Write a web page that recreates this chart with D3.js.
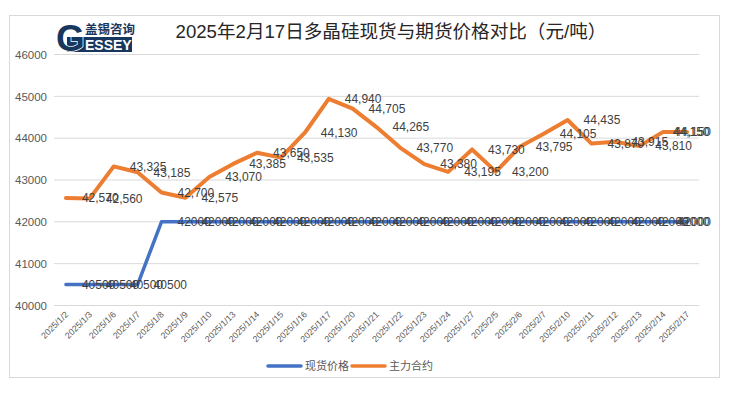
<!DOCTYPE html>
<html><head><meta charset="utf-8">
<script src="https://cdn.jsdelivr.net/npm/d3@7"></script>
<style>
body{margin:0;background:#fff;}
svg text{font-family:"Liberation Sans","Noto Sans CJK SC",sans-serif;}
</style></head>
<body><svg id="c" width="732" height="393"></svg>
<script>
const categories = ["2025/1/2","2025/1/3","2025/1/6","2025/1/7","2025/1/8","2025/1/9","2025/1/10","2025/1/13","2025/1/14","2025/1/15","2025/1/16","2025/1/17","2025/1/20","2025/1/21","2025/1/22","2025/1/23","2025/1/24","2025/1/27","2025/2/5","2025/2/6","2025/2/7","2025/2/10","2025/2/11","2025/2/12","2025/2/13","2025/2/14","2025/2/17"];
const spotPrice = [40500,40500,40500,40500,42000,42000,42000,42000,42000,42000,42000,42000,42000,42000,42000,42000,42000,42000,42000,42000,42000,42000,42000,42000,42000,42000,42000];
const futuresPrice = [42570,42560,43325,43185,42700,42575,43070,43385,43650,43535,44130,44940,44705,44265,43770,43380,43195,43730,43200,43795,44105,44435,43870,43915,43810,44150,44150];
const yTicks = [40000,41000,42000,43000,44000,45000,46000];
const seriesNames = ["现货价格","主力合约"];
const colors = ["#4472C4","#ED7D31"];
const title = "2025年2月17日多晶硅现货与期货价格对比（元/吨）";

const svg = d3.select("#c");
// outer frame
svg.append("rect").attr("x",9.5).attr("y",15.5).attr("width",710).attr("height",362)
  .attr("fill","#fff").attr("stroke","#d9d9d9");

const x = d3.scaleBand().domain(categories).range([54,699]).padding(0);
const cx = d => x(d) + x.bandwidth()/2;
const y = d3.scaleLinear().domain([40000,46000]).range([305.5,54.5]);

// gridlines
svg.append("g").selectAll("line").data(yTicks).join("line")
  .attr("x1",54).attr("x2",699).attr("y1",d=>y(d)).attr("y2",d=>y(d))
  .attr("stroke","#d9d9d9").attr("stroke-width",1);

// y axis labels
const yAxis = d3.axisLeft(y).tickValues(yTicks).tickSize(0).tickPadding(0).tickFormat(d3.format("d"));
const gy = svg.append("g").attr("transform","translate(47,0)").call(yAxis);
gy.select(".domain").remove();
gy.selectAll("text").attr("font-size","11.5px").attr("fill","#595959")
  .style("font-family","'Liberation Sans',sans-serif");

// x axis labels
const xAxis = d3.axisBottom(x).tickSize(0).tickPadding(0);
const gx = svg.append("g").attr("transform","translate(0,306)").call(xAxis);
gx.select(".domain").remove();
gx.selectAll("text").attr("y",0).attr("dy","0").attr("x",0)
  .attr("text-anchor","end").attr("transform","translate(3,9) rotate(-45)")
  .attr("font-size","8.8px").attr("fill","#595959")
  .style("font-family","'Liberation Sans',sans-serif");

// lines
const series = [spotPrice, futuresPrice];
const widths = [3.5, 4];
series.forEach((vals,si)=>{
  const line = d3.line().x((d,i)=>cx(categories[i])).y(d=>y(d));
  svg.append("path").datum(vals).attr("d",line).attr("fill","none")
    .attr("stroke",colors[si]).attr("stroke-width",widths[si])
    .attr("stroke-linejoin","round").attr("stroke-linecap","round");
});

// data labels (placed right of point, kept inside the chart's right bound)
const fmts = [d3.format("d"), d3.format(",")];
const rightBound = 711;
series.forEach((vals,si)=>{
  svg.append("g").selectAll("text").data(vals).join("text")
    .attr("y",d=>y(d)).attr("dy","0.36em")
    .attr("font-size","12px").attr("fill","#404040")
    .style("font-family","'Liberation Sans',sans-serif")
    .text(d=>fmts[si](d))
    .each(function(d,i){
      const w = this.getComputedTextLength();
      const px = Math.min(cx(categories[i])+16, rightBound - w - (i===vals.length-1?0:1.5));
      d3.select(this).attr("x",px);
    });
});

// title
svg.append("text").attr("x",391).attr("y",38).attr("text-anchor","middle")
  .attr("font-size","18.6px").attr("fill","#262626").text(title);

// logo
const logo = svg.append("g");
logo.append("rect").attr("x",67).attr("y",37).attr("width",65).attr("height",15).attr("fill","#17375e");
logo.append("text").attr("x",85).attr("y",50).attr("font-size","14px").attr("font-weight","bold")
  .attr("fill","#fff").style("font-family","'Liberation Sans',sans-serif").text("ESSEY");
logo.append("text").attr("x",56).attr("y",51).attr("font-size","37px").attr("font-weight","bold")
  .attr("fill","#17375e").attr("stroke","#fff").attr("stroke-width",1.5).attr("paint-order","stroke")
  .style("font-family","'Liberation Sans',sans-serif").text("G");
logo.append("text").attr("x",85).attr("y",34).attr("font-size","12.5px").attr("font-weight","bold")
  .attr("fill","#17375e").style("font-family","'Noto Sans CJK SC',sans-serif").text("盖锡咨询");

// legend
const legend = svg.append("g");
const legItems = [{x:268},{x:352}];
seriesNames.forEach((n,i)=>{
  legend.append("line").attr("x1",legItems[i].x).attr("x2",legItems[i].x+33)
    .attr("y1",366).attr("y2",366).attr("stroke",colors[i]).attr("stroke-width",3.5)
    .attr("stroke-linecap","round");
  legend.append("text").attr("x",legItems[i].x+37).attr("y",366).attr("dy","0.36em")
    .attr("font-size","11px").attr("fill","#595959").text(n);
});
</script></body></html>
